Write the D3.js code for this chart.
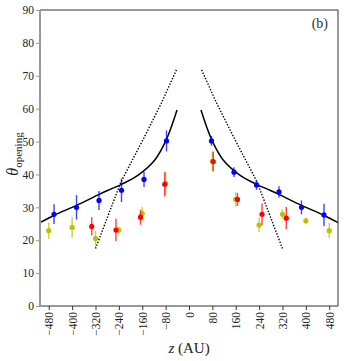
<!doctype html>
<html>
<head>
    <title>Opening angle</title>
    <script src="https://d3js.org/d3.v7.min.js"></script>
    <style>
        body { margin: 0; background: #fff; }
        text { font-family: "Liberation Serif", serif; }
    </style>
</head>
<body>
    <div id="chart"></div>
    <script>

        // data
        var yellowZ = [-480, -400, -320, -240, -160, -80, 80, 160, 240, 320, 400, 480];
        var yellowV = [22.9, 23.9, 20.5, 23.1, 28.1, 37.3, 44.0, 32.4, 24.6, 27.9, 25.9, 22.9];
        var yellowErr = [2.5, 3.2, 2.4, 1.0, 2.0, 3.5, 3.0, 2.2, 2.2, 1.5, 1.0, 2.4];

        var redZ = [-333, -250, -166, -83, 83, 166, 250, 333];
        var redV = [24.2, 23.1, 27.0, 37.0, 43.9, 32.4, 27.9, 26.7];
        var redErr = [2.8, 3.4, 2.3, 3.7, 3.0, 2.0, 3.3, 3.4];

        var blueZ = [-462, -385, -308, -231, -154, -77, 77, 154, 231, 308, 385, 462];
        var blueV = [27.9, 30.0, 32.1, 35.2, 38.5, 50.2, 50.2, 40.7, 36.8, 34.7, 30.0, 27.7];
        var blueErr = [3.0, 3.7, 2.9, 3.6, 2.3, 3.2, 1.5, 1.5, 1.5, 1.7, 2.1, 3.4];

        // model curves (one side, mirrored for z < 0)
        var fitZ = [41, 78, 117, 174, 231, 277, 306, 385, 461, 512];
        var fitV = [59.6, 50.5, 44.4, 39.8, 37.0, 35.2, 34.0, 30.6, 27.6, 25.3];
        var dotZ = [43, 95, 152, 233, 322];
        var dotV = [71.8, 61.6, 51.5, 37.7, 17.0];

        var xTicks = [-480, -400, -320, -240, -160, -80, 0, 80, 160, 240, 320, 400, 480];
        var yTicks = [0, 10, 20, 30, 40, 50, 60, 70, 80, 90];

        const width = 344, height = 361;
        const margin = {top: 10, right: 6, bottom: 55, left: 40};

        var svg = d3.select("#chart").append("svg")
            .attr("width", width)
            .attr("height", height);

        var x = d3.scaleLinear().domain([-510, 510]).range([margin.left, width - margin.right]);
        var y = d3.scaleLinear().domain([0, 90]).range([height - margin.bottom, margin.top]);

        svg.append("clipPath").attr("id", "clip")
            .append("rect")
            .attr("x", margin.left).attr("y", margin.top)
            .attr("width", width - margin.left - margin.right)
            .attr("height", height - margin.top - margin.bottom);

        var plot = svg.append("g").attr("clip-path", "url(#clip)");

        var line = d3.line()
            .x(function(d){ return x(d[0]); })
            .y(function(d){ return y(d[1]); });

        function side(zs, vs, sign){
            return zs.map(function(z, i){ return [sign * z, vs[i]]; });
        }

        [1, -1].forEach(function(s){
            plot.append("path")
                .datum(side(fitZ, fitV, s))
                .attr("fill", "none")
                .attr("stroke", "#000")
                .attr("stroke-width", 1.5)
                .attr("d", line.curve(d3.curveCatmullRom));
            plot.append("path")
                .datum(side(dotZ, dotV, s))
                .attr("fill", "none")
                .attr("stroke", "#000")
                .attr("stroke-width", 1.4)
                .attr("stroke-dasharray", "1.4,1.6")
                .attr("d", line.curve(d3.curveLinear));
        });

        function drawSeries(zs, vs, errs, color){
            var pts = zs.map(function(z, i){ return {z: z, v: vs[i], e: errs[i]}; });
            var g = plot.append("g");
            g.selectAll("line")
                .data(pts)
                .enter()
                .append("line")
                    .attr("x1", function(d){ return x(d.z); })
                    .attr("x2", function(d){ return x(d.z); })
                    .attr("y1", function(d){ return y(d.v - d.e); })
                    .attr("y2", function(d){ return y(d.v + d.e); })
                    .attr("stroke", color)
                    .attr("stroke-opacity", 0.75)
                    .attr("stroke-width", 1.4);
            g.selectAll("circle")
                .data(pts)
                .enter()
                .append("circle")
                    .attr("cx", function(d){ return x(d.z); })
                    .attr("cy", function(d){ return y(d.v); })
                    .attr("r", 2.6)
                    .attr("fill", color);
        }

        drawSeries(yellowZ, yellowV, yellowErr, "#bfbf00");
        drawSeries(redZ, redV, redErr, "#ff0000");
        drawSeries(blueZ, blueV, blueErr, "#0000ff");

        // axes
        var xAxis = svg.append("g")
            .attr("transform", "translate(0," + (height - margin.bottom) + ")")
            .call(d3.axisBottom(x).tickValues(xTicks).tickSize(4).tickPadding(2).tickSizeOuter(0));
        xAxis.select(".domain").remove();
        xAxis.selectAll(".tick line").attr("stroke", "#333");
        xAxis.selectAll(".tick text")
            .attr("font-size", 11.5)
            .attr("fill", "#222")
            .attr("transform", "rotate(-90)")
            .attr("x", -6)
            .attr("y", 0)
            .attr("dy", "0.35em")
            .attr("text-anchor", "end");

        var yAxis = svg.append("g")
            .attr("transform", "translate(" + margin.left + ",0)")
            .call(d3.axisLeft(y).tickValues(yTicks).tickSize(4).tickPadding(2).tickSizeOuter(0));
        yAxis.select(".domain").remove();
        yAxis.selectAll(".tick line").attr("stroke", "#999");
        yAxis.selectAll(".tick text").attr("font-size", 11.5).attr("fill", "#222");

        // frame
        var x0 = margin.left, x1 = width - margin.right, y0 = margin.top, y1 = height - margin.bottom;
        svg.append("line").attr("x1", x0).attr("x2", x1).attr("y1", y0).attr("y2", y0)
            .attr("stroke", "#333").attr("stroke-width", 1);
        svg.append("line").attr("x1", x1).attr("x2", x1).attr("y1", y0).attr("y2", y1)
            .attr("stroke", "#333").attr("stroke-width", 1);
        svg.append("line").attr("x1", x0).attr("x2", x1).attr("y1", y1).attr("y2", y1)
            .attr("stroke", "#333").attr("stroke-width", 1);
        svg.append("line").attr("x1", x0).attr("x2", x0).attr("y1", y0).attr("y2", y1 + 0.5)
            .attr("stroke", "#999").attr("stroke-width", 2);

        // labels
        svg.append("text")
            .attr("x", 328).attr("y", 28)
            .attr("text-anchor", "end")
            .attr("font-size", 14)
            .attr("fill", "#333")
            .text("(b)");

        var xl = svg.append("text")
            .attr("x", 189).attr("y", 353)
            .attr("text-anchor", "middle")
            .attr("font-size", 15)
            .attr("fill", "#222");
        xl.append("tspan").attr("font-style", "italic").text("z");
        xl.append("tspan").text(" (AU)");

        var yl = svg.append("text")
            .attr("transform", "translate(18,154) rotate(-90)")
            .attr("text-anchor", "middle")
            .attr("fill", "#222");
        yl.append("tspan").attr("font-style", "italic").attr("font-size", 16).text("θ");
        yl.append("tspan").attr("font-size", 11).attr("dy", 4).text("opening");

    </script>
</body>
</html>
